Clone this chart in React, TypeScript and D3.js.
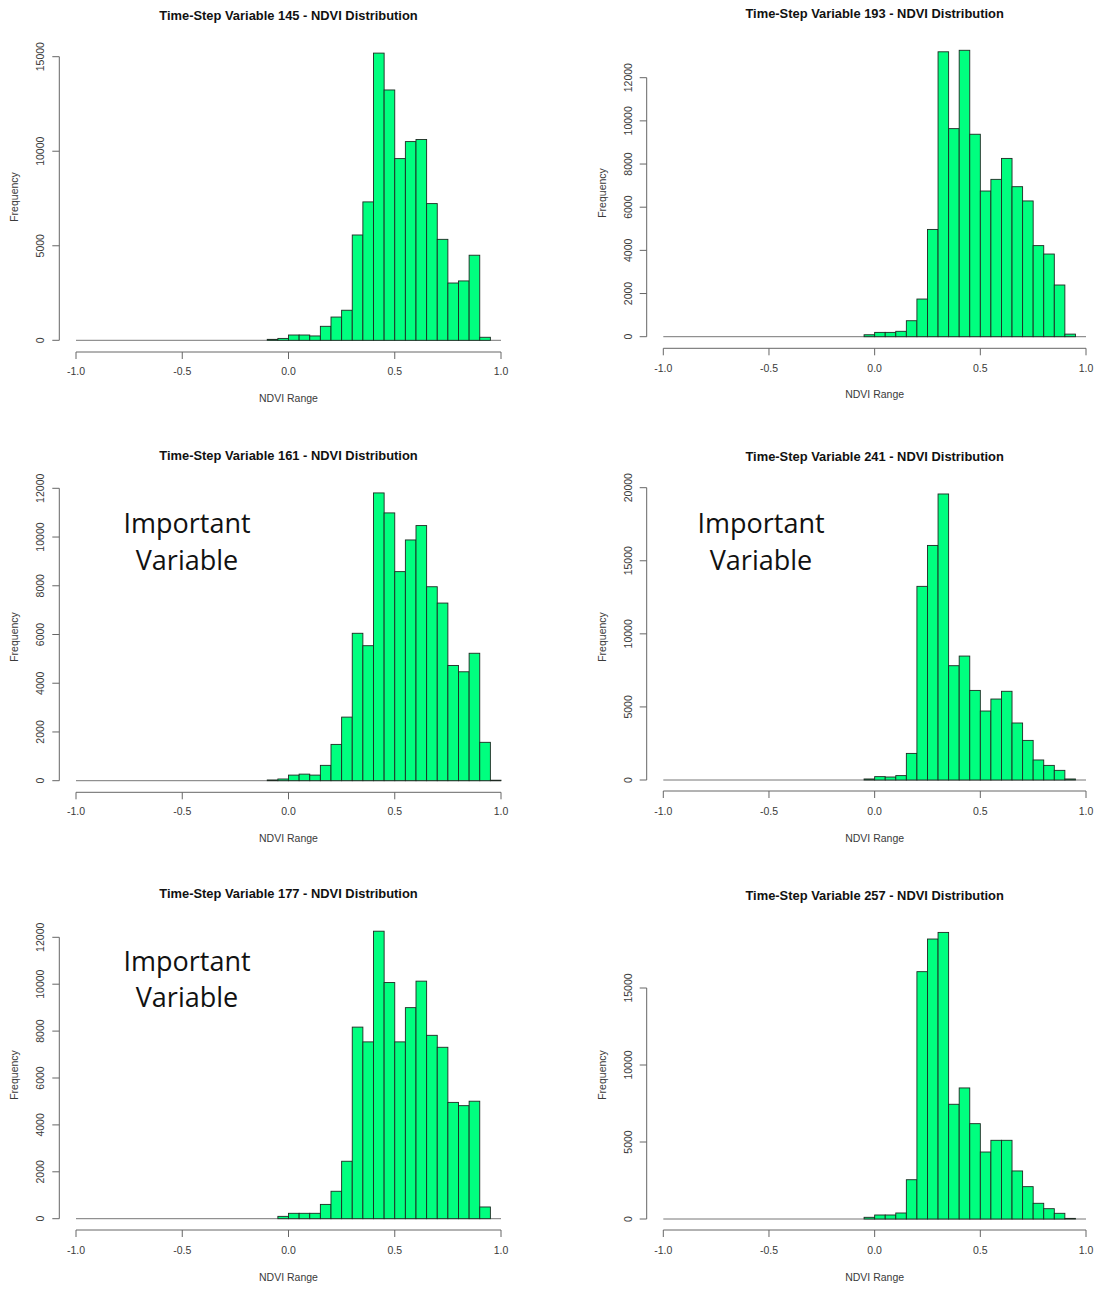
import React from "react";
import * as d3 from "d3";

// Left edges of the populated histogram bins (bin width 0.05)
const BIN_LEFT = [-0.10, -0.05, 0.00, 0.05, 0.10, 0.15, 0.20, 0.25, 0.30, 0.35, 0.40, 0.45, 0.50, 0.55, 0.60, 0.65, 0.70, 0.75, 0.80, 0.85, 0.90, 0.95];
const BIN_WIDTH = 0.05;

const counts145 = [50, 100, 280, 280, 230, 740, 1230, 1590, 5570, 7320, 15190, 13240, 9610, 10510, 10620, 7230, 5340, 3030, 3140, 4500, 160, 0];
const counts193 = [0, 90, 200, 200, 250, 740, 1745, 4970, 13200, 9640, 13270, 9380, 6750, 7290, 8260, 6950, 6290, 4220, 3830, 2395, 120, 0];
const counts161 = [30, 70, 230, 270, 230, 630, 1490, 2610, 6050, 5540, 11810, 10990, 8580, 9880, 10470, 7960, 7290, 4730, 4470, 5230, 1575, 20];
const counts241 = [0, 70, 230, 205, 300, 1820, 13250, 16050, 19570, 7820, 8480, 6130, 4720, 5540, 6070, 3900, 2710, 1370, 1000, 660, 70, 0];
const counts177 = [0, 100, 230, 230, 230, 610, 1170, 2450, 8170, 7540, 12260, 10070, 7540, 9000, 10130, 7820, 7310, 4960, 4820, 5010, 500, 0];
const counts257 = [0, 110, 260, 260, 390, 2550, 16060, 18180, 18610, 7450, 8510, 6190, 4350, 5110, 5110, 3120, 2100, 1020, 670, 370, 40, 0];

const X_TICKS = [-1.0, -0.5, 0.0, 0.5, 1.0];
const yTicksA = [0, 5000, 10000, 15000];
const yTicksB = [0, 2000, 4000, 6000, 8000, 10000, 12000];
const yTicksC = [0, 5000, 10000, 15000, 20000];

const titles = [
  "Time-Step Variable 145 - NDVI Distribution",
  "Time-Step Variable 193 - NDVI Distribution",
  "Time-Step Variable 161 - NDVI Distribution",
  "Time-Step Variable 241 - NDVI Distribution",
  "Time-Step Variable 177 - NDVI Distribution",
  "Time-Step Variable 257 - NDVI Distribution",
];
const importantFlags = [false, false, true, true, true, false];

type Layout = {
  x0: number; x1: number; yAxisX: number;
  base: number; topTickY: number; axisY: number;
  titleY: number; tickLabelY: number; xlabY: number; ylabX: number; ylabY: number; yTickLabelX: number;
  impX: number; impY1: number; impY2: number;
};

const L = { x0: 76, x1: 501, yAxisX: 59.3, ylabX: 14, yTickLabelX: 40, impX: 187 };
const R = { x0: 663.3, x1: 1086, yAxisX: 646.7, ylabX: 602, yTickLabelX: 628.3, impX: 761 };

const panels: { counts: number[]; yTicks: number[]; lay: Layout }[] = [
  { counts: counts145, yTicks: yTicksA, lay: { ...L, base: 340.3, topTickY: 56.7, axisY: 352, titleY: 20, tickLabelY: 375, xlabY: 402, ylabY: 197, impY1: 0, impY2: 0 } },
  { counts: counts193, yTicks: yTicksB, lay: { ...R, base: 336.7, topTickY: 77.7, axisY: 348.3, titleY: 17.5, tickLabelY: 372, xlabY: 398, ylabY: 193, impY1: 0, impY2: 0 } },
  { counts: counts161, yTicks: yTicksB, lay: { ...L, base: 780.7, topTickY: 488.3, axisY: 792.3, titleY: 460, tickLabelY: 815, xlabY: 842, ylabY: 637, impY1: 533, impY2: 570 } },
  { counts: counts241, yTicks: yTicksC, lay: { ...R, base: 780, topTickY: 487.7, axisY: 791, titleY: 461, tickLabelY: 815, xlabY: 841.5, ylabY: 637, impY1: 533, impY2: 570 } },
  { counts: counts177, yTicks: yTicksB, lay: { ...L, base: 1218.7, topTickY: 937.3, axisY: 1230, titleY: 898, tickLabelY: 1253.5, xlabY: 1280.5, ylabY: 1075, impY1: 971, impY2: 1007 } },
  { counts: counts257, yTicks: yTicksA, lay: { ...R, base: 1219, topTickY: 988, axisY: 1230, titleY: 899.5, tickLabelY: 1254, xlabY: 1280.5, ylabY: 1075, impY1: 0, impY2: 0 } },
];

const FILL = "#00FF7F";
const AXIS = "#666";
const TXT = "#3a3a3a";
const FONT = "'Liberation Sans', Arial, sans-serif";

function Panel({ counts, yTicks, lay, title, important }: { counts: number[]; yTicks: number[]; lay: Layout; title: string; important: boolean }) {
  const x = d3.scaleLinear().domain([-1, 1]).range([lay.x0, lay.x1]);
  const yTop = yTicks[yTicks.length - 1];
  const y = d3.scaleLinear().domain([0, yTop]).range([lay.base, lay.topTickY]);
  const cx = (lay.x0 + lay.x1) / 2;
  return (
    <g>
      <text x={cx} y={lay.titleY} textAnchor="middle" fontFamily={FONT} fontWeight="bold" fontSize={12.9} fill="#111">{title}</text>
      {/* baseline of empty bins */}
      <line x1={x(-1)} x2={x(1)} y1={lay.base} y2={lay.base} stroke="#777" strokeWidth={1} />
      {counts.map((c, i) => c > 0 ? (
        <rect key={i} x={x(BIN_LEFT[i])} width={x(BIN_LEFT[i] + BIN_WIDTH) - x(BIN_LEFT[i])} y={y(c)} height={lay.base - y(c)} fill={FILL} stroke="#1e2a22" strokeWidth={0.9} />
      ) : null)}
      {/* x axis */}
      <line x1={x(-1)} x2={x(1)} y1={lay.axisY} y2={lay.axisY} stroke={AXIS} strokeWidth={1} />
      {X_TICKS.map(t => (
        <g key={t}>
          <line x1={x(t)} x2={x(t)} y1={lay.axisY} y2={lay.axisY + 7} stroke={AXIS} strokeWidth={1} />
          <text x={x(t)} y={lay.tickLabelY} textAnchor="middle" fontFamily={FONT} fontSize={10.5} fill={TXT}>{t.toFixed(1)}</text>
        </g>
      ))}
      {/* y axis */}
      <line x1={lay.yAxisX} x2={lay.yAxisX} y1={y(0)} y2={y(yTop)} stroke={AXIS} strokeWidth={1} />
      {yTicks.map(t => (
        <g key={t}>
          <line x1={lay.yAxisX - 7} x2={lay.yAxisX} y1={y(t)} y2={y(t)} stroke={AXIS} strokeWidth={1} />
          <text transform={`translate(${lay.yTickLabelX + 3.5},${y(t)}) rotate(-90)`} textAnchor="middle" fontFamily={FONT} fontSize={10.5} fill={TXT}>{t}</text>
        </g>
      ))}
      <text x={cx} y={lay.xlabY} textAnchor="middle" fontFamily={FONT} fontSize={10.5} fill={TXT}>NDVI Range</text>
      <text transform={`translate(${lay.ylabX + 3.5},${lay.ylabY}) rotate(-90)`} textAnchor="middle" fontFamily={FONT} fontSize={10.5} fill={TXT}>Frequency</text>
      {important && (
        <g fontFamily="'Open Sans', 'Noto Sans', sans-serif" fontSize={27} fill="#111" textAnchor="middle">
          <text x={lay.impX} y={lay.impY1}>Important</text>
          <text x={lay.impX} y={lay.impY2}>Variable</text>
        </g>
      )}
    </g>
  );
}

export default function App() {
  return (
    <svg width={1103} height={1289} style={{ position: "absolute", left: 0, top: 0, background: "#fff" }}>
      <rect width={1103} height={1289} fill="#fff" />
      {panels.map((p, i) => (
        <Panel key={i} counts={p.counts} yTicks={p.yTicks} lay={p.lay} title={titles[i]} important={importantFlags[i]} />
      ))}
    </svg>
  );
}
